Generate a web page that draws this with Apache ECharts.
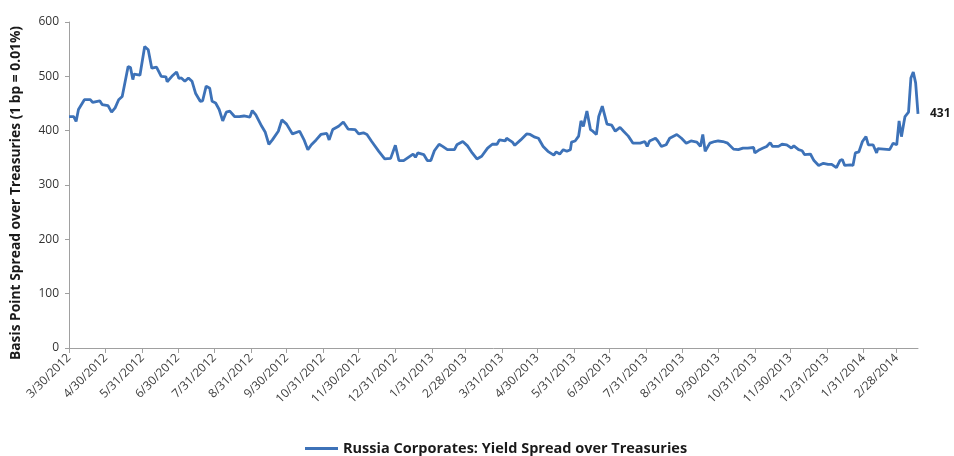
<!DOCTYPE html>
<html>
<head>
<meta charset="utf-8">
<script src="https://cdn.jsdelivr.net/npm/echarts@6/dist/echarts.min.js"></script>
<style>
  html, body { margin: 0; padding: 0; background: #fff; }
  #chart { width: 954px; height: 456px; }
</style>
</head>
<body>
<div id="chart"></div>
<script>
const seriesName = 'Russia Corporates: Yield Spread over Treasuries';
const yAxisTitle = 'Basis Point Spread over Treasuries (1 bp = 0.01%)';

const dates = [
'2012-03-30','2012-04-03','2012-04-05','2012-04-07','2012-04-12','2012-04-17','2012-04-19','2012-04-25','2012-04-27','2012-05-02',
'2012-05-05','2012-05-08','2012-05-11','2012-05-14','2012-05-16','2012-05-19','2012-05-21','2012-05-23','2012-05-24','2012-05-29',
'2012-05-30','2012-06-02','2012-06-05','2012-06-08','2012-06-12','2012-06-16','2012-06-20','2012-06-21','2012-06-25','2012-06-29',
'2012-07-01','2012-07-03','2012-07-06','2012-07-09','2012-07-12','2012-07-15','2012-07-19','2012-07-21','2012-07-24','2012-07-27',
'2012-07-29','2012-08-01','2012-08-04','2012-08-07','2012-08-10','2012-08-13','2012-08-17','2012-08-21','2012-08-25','2012-08-30',
'2012-09-01','2012-09-04','2012-09-09','2012-09-12','2012-09-15','2012-09-18','2012-09-23','2012-09-26','2012-09-30','2012-10-05',
'2012-10-11','2012-10-15','2012-10-18','2012-10-21','2012-10-25','2012-10-29','2012-11-03','2012-11-05','2012-11-08','2012-11-13',
'2012-11-17','2012-11-21','2012-11-27','2012-11-30','2012-12-04','2012-12-07','2012-12-11','2012-12-17','2012-12-22','2012-12-27',
'2012-12-31','2013-01-03','2013-01-07','2013-01-11','2013-01-15','2013-01-17','2013-01-19','2013-01-24','2013-01-27','2013-01-30',
'2013-02-02','2013-02-06','2013-02-09','2013-02-13','2013-02-19','2013-02-21','2013-02-26','2013-03-02','2013-03-06','2013-03-10',
'2013-03-14','2013-03-19','2013-03-23','2013-03-27','2013-03-29','2013-04-03','2013-04-04','2013-04-09','2013-04-11','2013-04-16',
'2013-04-21','2013-04-24','2013-04-28','2013-05-01','2013-05-05','2013-05-09','2013-05-14','2013-05-16','2013-05-19','2013-05-22',
'2013-05-25','2013-05-28','2013-05-29','2013-06-01','2013-06-04','2013-06-06','2013-06-08','2013-06-11','2013-06-14','2013-06-16',
'2013-06-19','2013-06-21','2013-06-24','2013-06-28','2013-07-02','2013-07-05','2013-07-09','2013-07-12','2013-07-16','2013-07-20',
'2013-07-26','2013-07-30','2013-08-01','2013-08-03','2013-08-08','2013-08-10','2013-08-13','2013-08-17','2013-08-20','2013-08-26',
'2013-08-30','2013-09-03','2013-09-07','2013-09-12','2013-09-15','2013-09-17','2013-09-19','2013-09-23','2013-09-27','2013-09-30',
'2013-10-04','2013-10-08','2013-10-13','2013-10-17','2013-10-21','2013-10-25','2013-10-30','2013-10-31','2013-11-04','2013-11-07',
'2013-11-10','2013-11-13','2013-11-15','2013-11-20','2013-11-23','2013-11-27','2013-12-01','2013-12-03','2013-12-07','2013-12-10',
'2013-12-12','2013-12-17','2013-12-20','2013-12-24','2013-12-28','2014-01-01','2014-01-04','2014-01-08','2014-01-11','2014-01-13',
'2014-01-15','2014-01-20','2014-01-22','2014-01-24','2014-01-27','2014-01-30','2014-02-02','2014-02-04','2014-02-08','2014-02-11',
'2014-02-12','2014-02-17','2014-02-22','2014-02-25','2014-02-28','2014-03-02','2014-03-04','2014-03-06','2014-03-07','2014-03-10',
'2014-03-12','2014-03-14','2014-03-16','2014-03-18'
];

const spreads = [
426,426,417,439,457,457,452,455,448,446,
434,442,457,463,485,518,516,494,504,502,
501,555,549,515,517,500,499,490,500,508,
496,497,491,497,491,469,454,455,482,478,
454,451,439,418,434,436,426,426,427,425,
437,429,408,397,375,383,399,420,412,394,
399,382,365,374,383,393,395,383,402,408,
416,403,402,394,396,393,380,362,348,349,
373,345,345,351,357,351,359,356,345,345,
363,375,371,365,365,374,380,372,359,348,
353,368,375,375,383,381,386,379,373,383,
394,393,388,386,371,362,355,361,357,365,
362,365,379,381,390,418,408,436,402,399,
393,426,445,412,410,399,406,399,390,377,
377,380,371,381,386,381,371,374,386,393,
386,377,381,379,371,393,362,377,380,381,
380,377,366,365,368,368,369,359,365,368,
371,378,371,371,375,374,368,372,365,363,
356,357,345,336,340,338,338,332,345,347,
336,337,336,359,361,380,389,374,374,359,
367,366,365,377,374,418,389,414,426,434,
497,508,488,431
];

const tickDates = [
'2012-03-30','2012-04-30','2012-05-31','2012-06-30','2012-07-31','2012-08-31','2012-09-30','2012-10-31','2012-11-30','2012-12-31',
'2013-01-31','2013-02-28','2013-03-31','2013-04-30','2013-05-31','2013-06-30','2013-07-31','2013-08-31','2013-09-30','2013-10-31',
'2013-11-30','2013-12-31','2014-01-31','2014-02-28'
];

const yTicks = [0, 100, 200, 300, 400, 500, 600];

function toTs(s) {
  const p = s.split('-').map(Number);
  return Date.UTC(p[0], p[1] - 1, p[2]);
}
const tickTs = tickDates.map(toTs);
const seriesData = dates.map((d, i) => [toTs(d), spreads[i]]);

const FONT = 'Open Sans';
const chart = echarts.init(document.getElementById('chart'), null, { renderer: 'canvas' });
chart.setOption({
  animation: false,
  backgroundColor: '#ffffff',
  textStyle: { fontFamily: FONT },
  grid: { left: 69, right: 36, top: 22, bottom: 108 },
  legend: {
    left: 300, top: 436,
    icon: 'rect', itemWidth: 33, itemHeight: 3,
    textStyle: { fontFamily: FONT, fontSize: 14.5, fontWeight: 'bold', color: '#1a1a1a' },
    data: [seriesName]
  },
  xAxis: {
    type: 'value',
    min: toTs(dates[0]),
    max: toTs(dates[dates.length - 1]),
    axisLine: { show: true, onZero: false, lineStyle: { color: '#a0a0a0', width: 1 } },
    axisTick: { show: true, customValues: tickTs, length: 5, lineStyle: { color: '#a0a0a0' } },
    splitLine: { show: false },
    axisLabel: {
      customValues: tickTs,
      rotate: 45,
      margin: 8,
      fontFamily: FONT, fontSize: 12, color: '#404040',
      formatter: function (v) {
        const d = new Date(v);
        return (d.getUTCMonth() + 1) + '/' + d.getUTCDate() + '/' + d.getUTCFullYear();
      }
    }
  },
  yAxis: {
    type: 'value',
    min: yTicks[0], max: yTicks[yTicks.length - 1], interval: 100,
    name: yAxisTitle,
    nameLocation: 'middle',
    nameRotate: 90,
    nameGap: 46,
    nameTextStyle: { fontFamily: FONT, fontSize: 13.8, fontWeight: 'bold', color: '#1a1a1a', padding: [0, 16, 0, 0] },
    axisLine: { show: true, lineStyle: { color: '#a0a0a0', width: 1 } },
    axisTick: { show: true, inside: false, length: 4, lineStyle: { color: '#a0a0a0' } },
    splitLine: { show: false },
    axisLabel: { margin: 10, fontFamily: FONT, fontSize: 12, color: '#333333' }
  },
  series: [{
    name: seriesName,
    type: 'line',
    data: seriesData,
    symbol: 'none',
    clip: false,
    lineStyle: { color: '#3d72b8', width: 2.8 },
    itemStyle: { color: '#3d72b8' },
    endLabel: {
      show: true,
      distance: 12,
      fontFamily: FONT, fontSize: 12, fontWeight: 'bold', color: '#1a1a1a',
      formatter: function (p) { return String(p.value[1]); }
    }
  }]
});
</script>
</body>
</html>
